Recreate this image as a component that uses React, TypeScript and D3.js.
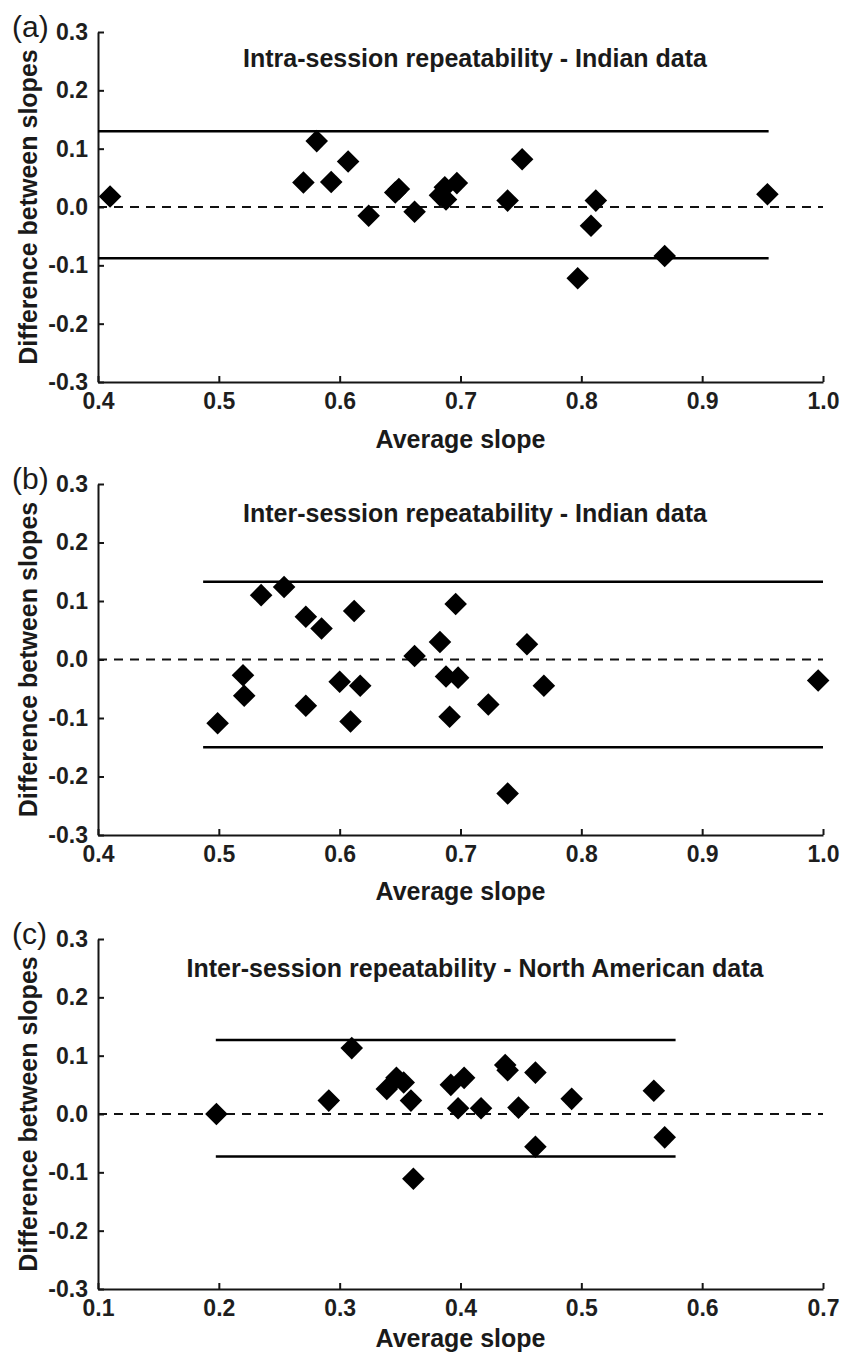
import React, { useEffect, useRef } from "react";
import * as d3 from "d3";

// (a) Intra-session repeatability - Indian data
const avgA = [0.41, 0.57, 0.581, 0.593, 0.607, 0.624, 0.646, 0.649, 0.662, 0.683, 0.687, 0.688, 0.697, 0.739, 0.751, 0.797, 0.808, 0.812, 0.869, 0.954];
const diffA = [0.018, 0.042, 0.113, 0.043, 0.078, -0.015, 0.025, 0.031, -0.008, 0.02, 0.034, 0.013, 0.041, 0.011, 0.082, -0.122, -0.032, 0.011, -0.084, 0.022];
const limitsA = [0.13, -0.088];
const meanA = 0.0;
const limitSpanA = [0.4, 0.955];

// (b) Inter-session repeatability - Indian data
const avgB = [0.499, 0.52, 0.521, 0.535, 0.554, 0.572, 0.585, 0.572, 0.6, 0.617, 0.609, 0.612, 0.662, 0.683, 0.696, 0.688, 0.698, 0.691, 0.723, 0.739, 0.755, 0.769, 0.996];
const diffB = [-0.109, -0.027, -0.062, 0.11, 0.124, 0.073, 0.053, -0.079, -0.038, -0.045, -0.106, 0.083, 0.006, 0.03, 0.095, -0.029, -0.031, -0.098, -0.077, -0.229, 0.026, -0.045, -0.036];
const limitsB = [0.133, -0.15];
const meanB = 0.0;
const limitSpanB = [0.487, 1.0];

// (c) Inter-session repeatability - North American data
const avgC = [0.198, 0.291, 0.31, 0.339, 0.347, 0.353, 0.359, 0.361, 0.392, 0.403, 0.398, 0.417, 0.437, 0.439, 0.462, 0.448, 0.462, 0.492, 0.56, 0.569];
const diffC = [0.0, 0.023, 0.113, 0.043, 0.062, 0.054, 0.023, -0.111, 0.05, 0.062, 0.01, 0.01, 0.084, 0.075, 0.071, 0.011, -0.056, 0.026, 0.04, -0.04];
const limitsC = [0.127, -0.073];
const meanC = 0.0;
const limitSpanC = [0.1975, 0.578];

const xDomains = [[0.4, 1.0], [0.4, 1.0], [0.1, 0.7]];
const yDomain = [-0.3, 0.3];
const titles = [
  "Intra-session repeatability - Indian data",
  "Inter-session repeatability - Indian data",
  "Inter-session repeatability - North American data",
];
const panelLabels = ["(a)", "(b)", "(c)"];
const xLabel = "Average slope";
const yLabel = "Difference between slopes";

const FONT = "'Liberation Sans', Arial, Helvetica, sans-serif";

export default function App() {
  const svgRef = useRef<SVGSVGElement>(null);

  useEffect(() => {
    const svg = d3.select(svgRef.current);
    svg.selectAll("*").remove();

    const width = 847;
    const height = 1353;
    svg.attr("width", width).attr("height", height);

    const panels = [
      { avg: avgA, diff: diffA, limits: limitsA, mean: meanA, span: limitSpanA, top: 32, bottom: 382, xTitleGap: 66 },
      { avg: avgB, diff: diffB, limits: limitsB, mean: meanB, span: limitSpanB, top: 484, bottom: 835, xTitleGap: 65 },
      { avg: avgC, diff: diffC, limits: limitsC, mean: meanC, span: limitSpanC, top: 939, bottom: 1289, xTitleGap: 58 },
    ];
    const left = 98;
    const right = 823;
    const ink = "#151515";

    panels.forEach((p, i) => {
      const x = d3.scaleLinear().domain(xDomains[i]).range([left, right]);
      const y = d3.scaleLinear().domain(yDomain).range([p.bottom, p.top]);
      const g = svg.append("g");

      // axes
      const yAxis = g.append("g")
        .attr("transform", `translate(${left},0)`)
        .call(d3.axisLeft(y).ticks(6).tickSizeInner(-6).tickSizeOuter(0).tickPadding(10)
          .tickFormat(d => (+d).toFixed(1)));
      const xAxis = g.append("g")
        .attr("transform", `translate(0,${p.bottom})`)
        .call(d3.axisBottom(x).ticks(6).tickSizeInner(-6).tickSizeOuter(0).tickPadding(11)
          .tickFormat(d => (+d).toFixed(1)));
      [yAxis, xAxis].forEach(a => {
        a.select(".domain").attr("stroke", ink).attr("stroke-width", 2);
        a.selectAll(".tick line").attr("stroke", ink).attr("stroke-width", 2);
        a.selectAll(".tick text")
          .attr("fill", "#1e1e1e")
          .style("font-family", FONT)
          .style("font-weight", "bold")
          .style("font-size", "23px");
      });

      // limits of agreement
      p.limits.forEach(v => {
        g.append("line")
          .attr("x1", x(p.span[0])).attr("x2", x(p.span[1]))
          .attr("y1", y(v)).attr("y2", y(v))
          .attr("stroke", "#000").attr("stroke-width", 2.5);
      });
      // mean difference
      g.append("line")
        .attr("x1", x(xDomains[i][0])).attr("x2", x(xDomains[i][1]))
        .attr("y1", y(p.mean)).attr("y2", y(p.mean))
        .attr("stroke", "#111").attr("stroke-width", 2)
        .attr("stroke-dasharray", "9,7");

      // points
      const diamond = d3.symbol().type(d3.symbolSquare).size(255);
      g.selectAll(".pt")
        .data(p.avg.map((a, k) => [a, p.diff[k]]))
        .enter()
        .append("path")
        .attr("class", "pt")
        .attr("d", diamond)
        .attr("transform", d => `translate(${x(d[0])},${y(d[1])}) rotate(45)`)
        .attr("fill", "#000");

      // title
      g.append("text")
        .attr("x", 475)
        .attr("y", p.top + 35 + (i > 0 ? 3 : 0))
        .attr("text-anchor", "middle")
        .style("font-family", FONT)
        .style("font-weight", "bold")
        .style("font-size", "25px")
        .attr("fill", "#1a1a1a")
        .text(titles[i]);

      // x axis label
      g.append("text")
        .attr("x", (left + right) / 2)
        .attr("y", p.bottom + p.xTitleGap)
        .attr("text-anchor", "middle")
        .style("font-family", FONT)
        .style("font-weight", "bold")
        .style("font-size", "25px")
        .attr("fill", "#1a1a1a")
        .text(xLabel);

      // y axis label
      g.append("text")
        .attr("transform", `translate(37,${y(0)}) rotate(-90)`)
        .attr("text-anchor", "middle")
        .style("font-family", FONT)
        .style("font-weight", "bold")
        .style("font-size", "25px")
        .attr("fill", "#1a1a1a")
        .text(yLabel);

      // panel label
      g.append("text")
        .attr("x", 12)
        .attr("y", p.top + 5)
        .style("font-family", FONT)
        .style("font-size", "30px")
        .attr("fill", "#1a1a1a")
        .text(panelLabels[i]);
    });
  }, []);

  return (
    <svg ref={svgRef} style={{ position: "absolute", left: 0, top: 0, background: "#fff" }}></svg>
  );
}
